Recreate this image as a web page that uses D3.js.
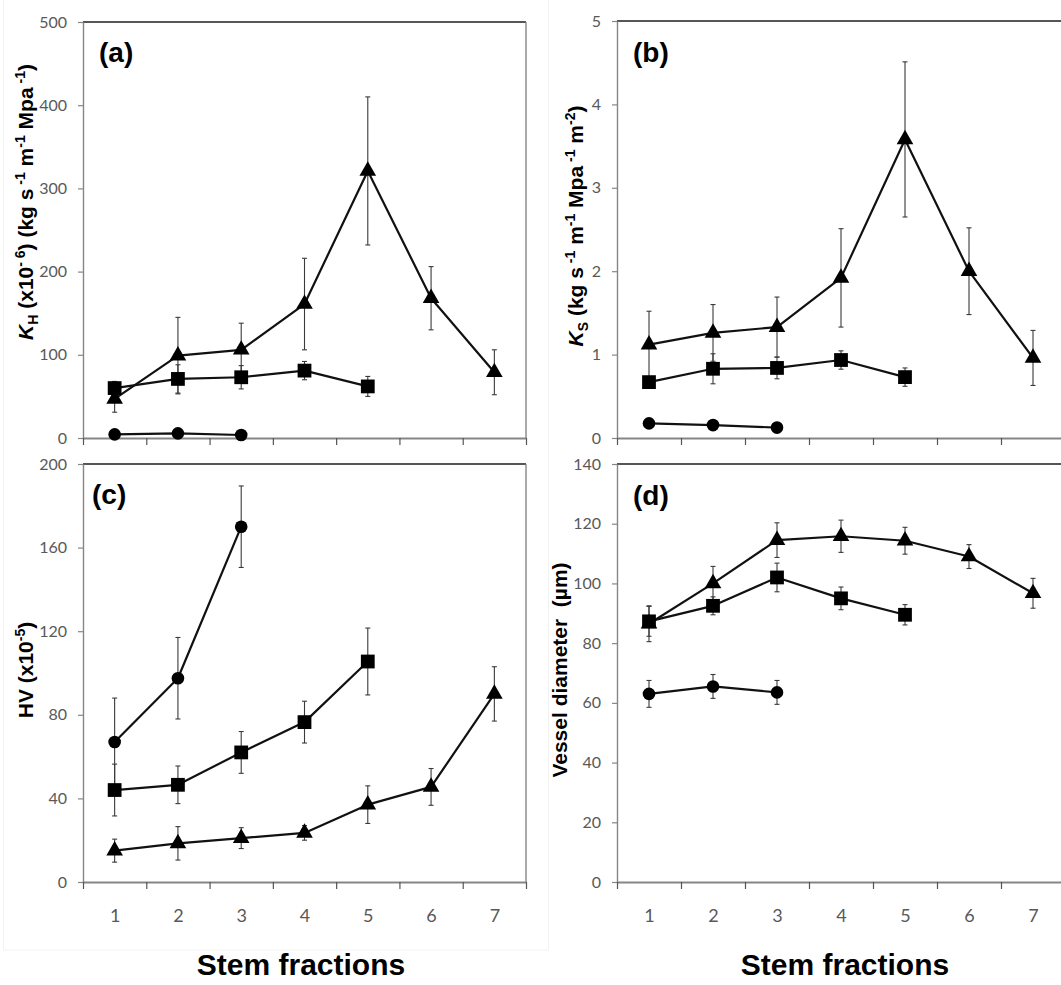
<!DOCTYPE html>
<html>
<head>
<meta charset="utf-8">
<script src="https://cdn.jsdelivr.net/npm/d3@7"></script>
<style>
  html, body { margin: 0; padding: 0; background: #fff; }
  svg { display: block; }
</style>
</head>
<body>
<svg id="fig" width="1061" height="985"></svg>
<script>
// Stem fractions along the x axis
const fractions = [1, 2, 3, 4, 5, 6, 7];

// (a) hydraulic conductivity KH (x10^-6)
const khCircle = [4.4, 5.6, 3.6];
const khCircleErr = [1.2, 1.2, 1.0];
const khSquare = [60, 71, 73, 81, 62];
const khSquareErr = [8, 17, 14, 11, 12];
const khTriangle = [47, 99, 106, 161, 321, 168, 79];
const khTriangleErr = [16, 46, 32, 55, 89, 38, 27];

// (b) specific conductivity KS
const ksCircle = [0.175, 0.155, 0.125];
const ksCircleErr = [0.02, 0.02, 0.02];
const ksSquare = [0.67, 0.83, 0.84, 0.935, 0.73];
const ksSquareErr = [0.05, 0.18, 0.13, 0.11, 0.11];
const ksTriangle = [1.12, 1.26, 1.33, 1.92, 3.58, 2.0, 0.96];
const ksTriangleErr = [0.40, 0.34, 0.36, 0.59, 0.93, 0.52, 0.33];

// (c) Huber value HV (x10^-5)
const hvCircle = [67, 97.5, 170];
const hvCircleErr = [21, 19.5, 19.5];
const hvSquare = [44, 46.5, 62, 76.5, 105.5];
const hvSquareErr = [12.4, 9, 10, 10, 16];
const hvTriangle = [15, 18.5, 21, 23.5, 37, 45.5, 90];
const hvTriangleErr = [5.5, 8, 5, 3.5, 9, 8.8, 13];

// (d) vessel diameter (µm)
const vdCircle = [63, 65.5, 63.5];
const vdCircleErr = [4.5, 4, 4];
const vdSquare = [87.3, 92.5, 102, 95, 89.5];
const vdSquareErr = [5, 3, 4.8, 3.8, 3.4];
const vdTriangle = [86.5, 100, 114.5, 115.8, 114.3, 109, 96.7];
const vdTriangleErr = [6, 5.7, 5.8, 5.4, 4.5, 4, 5];

// y-axis tick values
const khTicks = [0, 100, 200, 300, 400, 500];
const ksTicks = [0, 1, 2, 3, 4, 5];
const hvTicks = [0, 40, 80, 120, 160, 200];
const vdTicks = [0, 20, 40, 60, 80, 100, 120, 140];

const svg = d3.select("#fig");
const TICK_FONT = "Lato, 'Open Sans', sans-serif";
const LABEL_FONT = "'Liberation Sans', Arial, sans-serif";
const AXIS_GREY = "#868686";
const plain = d => String(d);

// faint outline of the left chart area
svg.append("rect")
  .attr("x", 3.5).attr("y", -1).attr("width", 545).attr("height", 951)
  .attr("fill", "none").attr("stroke", "#f2f2f2").attr("stroke-width", 1);

function series(values, errs, shape) {
  return { values, errs, shape };
}

const panels = [
  {
    letter: "(a)", x0: 83, x1: 526, top: 22, bottom: 438, max: 500, ticks: khTicks,
    showX: false, letterX: 99, letterY: 62,
    label: { x: 33, y: 202, parts: [
      { t: "K", italic: true }, { t: "H", pos: "sub" }, { t: " (x10" }, { t: "- 6", pos: "sup" },
      { t: ") (kg s" }, { t: " -1", pos: "sup" }, { t: " m" }, { t: "-1", pos: "sup" },
      { t: " Mpa" }, { t: " -1", pos: "sup" }, { t: ")" } ] },
    data: [series(khCircle, khCircleErr, "circle"), series(khSquare, khSquareErr, "square"),
           series(khTriangle, khTriangleErr, "triangle")]
  },
  {
    letter: "(b)", x0: 617, x1: 1065, top: 21, bottom: 438, max: 5, ticks: ksTicks,
    showX: false, letterX: 633, letterY: 62,
    label: { x: 583, y: 226, parts: [
      { t: "K", italic: true }, { t: "S", pos: "sub" }, { t: " (kg s" }, { t: " -1", pos: "sup" },
      { t: " m" }, { t: "-1", pos: "sup" }, { t: " Mpa" }, { t: " -1", pos: "sup" },
      { t: " m" }, { t: "-2", pos: "sup" }, { t: ")" } ] },
    data: [series(ksCircle, ksCircleErr, "circle"), series(ksSquare, ksSquareErr, "square"),
           series(ksTriangle, ksTriangleErr, "triangle")]
  },
  {
    letter: "(c)", x0: 83, x1: 526, top: 464, bottom: 882, max: 200, ticks: hvTicks,
    showX: true, letterX: 92, letterY: 504,
    label: { x: 33, y: 670, parts: [
      { t: "HV (x10" }, { t: "-5", pos: "sup" }, { t: ")" } ] },
    data: [series(hvCircle, hvCircleErr, "circle"), series(hvSquare, hvSquareErr, "square"),
           series(hvTriangle, hvTriangleErr, "triangle")]
  },
  {
    letter: "(d)", x0: 617, x1: 1065, top: 464, bottom: 882, max: 140, ticks: vdTicks,
    showX: true, letterX: 633, letterY: 505,
    label: { x: 567, y: 670, parts: [ { t: "Vessel diameter  (µm)" } ] },
    data: [series(vdCircle, vdCircleErr, "circle"), series(vdSquare, vdSquareErr, "square"),
           series(vdTriangle, vdTriangleErr, "triangle")]
  }
];

const symbolFor = {
  circle: d3.symbol().type(d3.symbolCircle).size(125),
  square: d3.symbol().type(d3.symbolSquare).size(190),
  triangle: d3.symbol().type(d3.symbolTriangle).size(120)
};

function richLabel(sel, parts) {
  let shift = 0;
  parts.forEach(p => {
    const target = p.pos === "sup" ? -8 : p.pos === "sub" ? 5 : 0;
    const ts = sel.append("tspan").attr("dy", target - shift).text(p.t);
    if (p.pos) ts.attr("font-size", "14px");
    if (p.italic) ts.attr("font-style", "italic");
    shift = target;
  });
}

panels.forEach(p => {
  const g = svg.append("g");
  const x = d3.scaleLinear().domain([0.5, 7.5]).range([p.x0, p.x1]);
  const y = d3.scaleLinear().domain([0, p.max]).range([p.bottom, p.top]);

  // plot frame: dark top edge, grey right edge
  g.append("line").attr("x1", p.x0).attr("x2", p.x1).attr("y1", p.top).attr("y2", p.top)
    .attr("stroke", "#1e1e1e").attr("stroke-width", 1.6);
  g.append("line").attr("x1", p.x1).attr("x2", p.x1).attr("y1", p.top).attr("y2", p.bottom)
    .attr("stroke", AXIS_GREY).attr("stroke-width", 1.4);

  // y axis
  const ya = g.append("g").attr("transform", `translate(${p.x0},0)`)
    .call(d3.axisLeft(y).tickValues(p.ticks).tickFormat(plain)
      .tickSize(5).tickPadding(11).tickSizeOuter(0));
  ya.select(".domain").attr("stroke", AXIS_GREY).attr("stroke-width", 1.4);
  ya.selectAll(".tick line").attr("stroke", AXIS_GREY).attr("stroke-width", 1.2);
  ya.selectAll(".tick text").attr("fill", "#595959").attr("font-size", "16px")
    .attr("font-family", TICK_FONT);

  // x axis: tick marks at the fraction boundaries
  const bounds = d3.range(0.5, 8, 1);
  const xa = g.append("g").attr("transform", `translate(0,${p.bottom})`)
    .call(d3.axisBottom(x).tickValues(bounds).tickSize(7).tickFormat("").tickSizeOuter(0));
  xa.select(".domain").attr("stroke", AXIS_GREY).attr("stroke-width", 2.2);
  xa.selectAll(".tick line").attr("stroke", "#555").attr("stroke-width", 1.2);

  if (p.showX) {
    const xl = g.append("g").attr("transform", `translate(0,${p.bottom})`)
      .call(d3.axisBottom(x).tickValues(fractions).tickFormat(plain).tickSize(0).tickPadding(27));
    xl.select(".domain").remove();
    xl.selectAll(".tick text").attr("fill", "#595959").attr("font-size", "18px")
      .attr("font-family", TICK_FONT);
  }

  // error bars
  p.data.forEach(s => {
    s.values.forEach((v, i) => {
      const cx = x(fractions[i]);
      const e = s.errs[i];
      const eg = g.append("g").attr("stroke", "#3a3a3a").attr("stroke-width", 1.1);
      eg.append("line").attr("x1", cx).attr("x2", cx).attr("y1", y(v - e)).attr("y2", y(v + e));
      [v - e, v + e].forEach(b => {
        eg.append("line").attr("x1", cx - 2.5).attr("x2", cx + 2.5).attr("y1", y(b)).attr("y2", y(b));
      });
    });
  });

  // connecting lines
  const line = d3.line().x((v, i) => x(fractions[i])).y(v => y(v));
  p.data.forEach(s => {
    g.append("path").attr("d", line(s.values)).attr("fill", "none")
      .attr("stroke", "#111").attr("stroke-width", 2.2).attr("stroke-linejoin", "round");
  });

  // markers
  p.data.forEach(s => {
    g.selectAll(null).data(s.values).join("path")
      .attr("d", symbolFor[s.shape])
      .attr("transform", (v, i) => `translate(${x(fractions[i])},${y(v)})`)
      .attr("fill", "#000");
  });

  // panel letter
  g.append("text").attr("x", p.letterX).attr("y", p.letterY)
    .attr("font-family", LABEL_FONT).attr("font-weight", "bold").attr("font-size", "28px")
    .attr("fill", "#000").text(p.letter);

  // y-axis title
  const t = g.append("text")
    .attr("transform", `translate(${p.label.x},${p.label.y}) rotate(-90)`)
    .attr("text-anchor", "middle")
    .attr("font-family", LABEL_FONT).attr("font-weight", "bold").attr("font-size", "21px")
    .attr("fill", "#000").style("white-space", "pre");
  richLabel(t, p.label.parts);
});

// shared x-axis titles
[301, 845].forEach(cx => {
  svg.append("text").attr("x", cx).attr("y", 975).attr("text-anchor", "middle")
    .attr("font-family", LABEL_FONT).attr("font-weight", "bold").attr("font-size", "30px")
    .attr("fill", "#000").text("Stem fractions");
});
</script>
</body>
</html>
